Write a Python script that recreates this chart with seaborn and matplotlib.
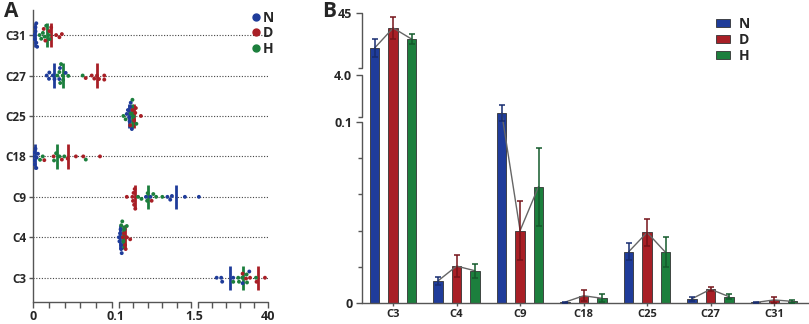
import numpy as np
import pandas as pd
import matplotlib
matplotlib.use("Agg")
import matplotlib.pyplot as plt
import seaborn as sns
from matplotlib.lines import Line2D
from matplotlib.patches import Patch

# ---- data -------------------------------------------------------------
groups = ["N", "D", "H"]
colors = {"N": "#1f3c9a", "D": "#a81f26", "H": "#1c7f3d"}
dark = {"N": "#172c70", "D": "#75141a", "H": "#135a2b"}

# panel A: individual values per compound
a_rows = ["C31", "C27", "C25", "C18", "C9", "C4", "C3"]
a_N = {
    "C31": [0.001, 0.002, 0.003, 0.003, 0.004, 0.004, 0.005],
    "C27": [0.0166, 0.0194, 0.0198, 0.024, 0.026, 0.0319, 0.0327, 0.0396],
    "C25": [0.30, 0.32, 0.34, 0.35, 0.36, 0.37, 0.39],
    "C18": [0.0, 0.0005, 0.001, 0.002, 0.003, 0.004, 0.0045, 0.006],
    "C9": [0.64, 0.72, 1.02, 1.07, 1.10, 1.33, 3.8],
    "C4": [0.16, 0.17, 0.18, 0.19, 0.20, 0.20, 0.21],
    "C3": [13.1, 15.5, 16.0, 21.8, 26.7, 30.2],
}
a_D = {
    "C31": [0.013, 0.015, 0.020, 0.022, 0.028, 0.032, 0.035],
    "C27": [0.0639, 0.0712, 0.0743, 0.0776, 0.080, 0.0864, 0.0864],
    "C25": [0.36, 0.40, 0.43, 0.45, 0.46, 0.55],
    "C18": [0.0137, 0.025, 0.035, 0.042, 0.052, 0.061, 0.0812],
    "C9": [0.30, 0.40, 0.41, 0.42, 0.43, 0.44, 0.45, 0.74],
    "C4": [0.23, 0.25, 0.27, 0.28, 0.30, 0.36],
    "C3": [26.7, 28.5, 30.6, 34.0, 38.4],
}
a_H = {
    "C31": [0.008, 0.010, 0.012, 0.014, 0.016, 0.019, 0.020],
    "C27": [0.0295, 0.032, 0.033, 0.034, 0.036, 0.0365, 0.0428, 0.0602],
    "C25": [0.24, 0.28, 0.37, 0.40, 0.42, 0.47],
    "C18": [0.0085, 0.0118, 0.0255, 0.028, 0.032, 0.038, 0.064],
    "C9": [0.50, 0.56, 0.66, 0.67, 0.77, 0.82, 0.93],
    "C4": [0.20, 0.22, 0.24, 0.26, 0.30],
    "C3": [21.8, 24.4, 24.8, 26.5, 28.8, 29.0, 33.7],
}
# centre lines drawn in panel A
a_center_N = [0.003, 0.0258, 0.345, 0.0025, 1.167, 0.185, 20.1]
a_center_D = [0.0215, 0.0772, 0.433, 0.042, 0.445, 0.274, 34.8]
a_center_H = [0.0166, 0.0367, 0.387, 0.0295, 0.671, 0.238, 26.7]

# panel B: means and errors
b_cats = ["C3", "C4", "C9", "C18", "C25", "C27", "C31"]
b_N = [21.9, 0.0123, 0.85, 0.0005, 0.0283, 0.0024, 0.0003]
b_N_err = [5.9, 0.0022, 0.7, 0.0003, 0.0048, 0.0011, 0.0002]
b_D = [35.1, 0.0204, 0.040, 0.0040, 0.039, 0.0076, 0.0017]
b_D_err = [7.3, 0.006, 0.0165, 0.003, 0.0074, 0.0012, 0.0016]
b_H = [27.8, 0.0178, 0.0643, 0.0026, 0.028, 0.0035, 0.0009]
b_H_err = [3.3, 0.004, 0.0215, 0.0022, 0.0083, 0.0015, 0.0008]


def piecewise(vals, pix):
    # piecewise-linear scale for the broken axes
    vals = np.asarray(vals, float)
    pix = np.asarray(pix, float)

    def make(src, dst):
        def f(v):
            v = np.asarray(v, float)
            out = np.interp(v, src, dst)
            lo_s = (dst[1] - dst[0]) / (src[1] - src[0])
            hi_s = (dst[-1] - dst[-2]) / (src[-1] - src[-2])
            out = np.where(v < src[0], dst[0] + (v - src[0]) * lo_s, out)
            out = np.where(v > src[-1], dst[-1] + (v - src[-1]) * hi_s, out)
            return out
        return f
    return make(vals, pix), make(pix, vals)


sns.set_style("white")
plt.rcParams["font.family"] = ["Open Sans", "DejaVu Sans"]
plt.rcParams["font.weight"] = "bold"
AX_COL = "#555555"

fig = plt.figure(figsize=(8.09, 3.24), dpi=100)
axA = fig.add_axes([33 / 809, 22 / 324, 235 / 809, 292 / 324])
axB = fig.add_axes([362 / 809, 21 / 324, 447 / 809, 290 / 324])

# ---- panel A ----------------------------------------------------------
rows = []
for g, d in zip(groups, [a_N, a_D, a_H]):
    for c in a_rows:
        for v in d[c]:
            rows.append((c, g, v))
dfA = pd.DataFrame(rows, columns=["compound", "group", "value"])

fA, iA = piecewise([0, 0.1, 1.5, 40], [0, 82.5, 161.5, 235])
axA.set_xscale("function", functions=(fA, iA))
axA.set_xlim(0, 40)

sns.swarmplot(data=dfA, x="value", y="compound", hue="group", order=a_rows,
              hue_order=groups, palette=colors, size=2.8, orient="h",
              legend=False, ax=axA, zorder=3)

axA.hlines(range(len(a_rows)), 0, 40, colors="#444444", linestyles=(0, (1, 1.5)),
           lw=0.8, zorder=1)
for g, cen in zip(groups, [a_center_N, a_center_D, a_center_H]):
    axA.vlines(cen, np.arange(len(a_rows)) - 0.3, np.arange(len(a_rows)) + 0.3,
               colors=colors[g], lw=2, zorder=2)

axA.set_ylim(6.6, -0.62)
axA.set_xlabel("")
axA.set_ylabel("")
for s in ["top", "right", "bottom"]:
    axA.spines[s].set_visible(False)
axA.spines["left"].set_color(AX_COL)
axA.spines["left"].set_linewidth(1)

segA = [(0, 79), (86, 158), (165, 235)]
minor = []
for a, b in segA:
    axA.plot(iA(np.array([a, b])), [0, 0], color=AX_COL, lw=1,
             transform=axA.get_xaxis_transform(), clip_on=False)
    minor.extend(np.linspace(a, b, 6))
axA.xaxis.remove_overlapping_locs = False
axA.set_xticks([0, 0.1, 1.5, 40], labels=["0", "0.1", "1.5", "40"])
axA.set_xticks(iA(np.array(minor)), minor=True)
axA.tick_params(axis="x", which="major", length=0, pad=6, labelsize=9)
axA.tick_params(axis="x", which="minor", length=4, width=1, color=AX_COL,
                direction="out", bottom=True)
axA.tick_params(axis="y", length=3, width=1, color=AX_COL, left=True,
                labelsize=8.5, pad=2)
for t in axA.get_xticklabels() + axA.get_yticklabels():
    t.set_fontweight("bold")

hA = [Line2D([], [], marker="o", ls="", color=colors[g], markersize=5) for g in groups]
axA.legend(hA, groups, loc="upper left", bbox_to_anchor=(0.88, 1.04), frameon=False,
           handlelength=0.5, handletextpad=0.25, labelspacing=0.1,
           prop={"weight": "bold", "size": 10})

# ---- panel B ----------------------------------------------------------
b_vals = {"N": b_N, "D": b_D, "H": b_H}
b_errs = {"N": b_N_err, "D": b_D_err, "H": b_H_err}
dfB = pd.DataFrame([(c, g, b_vals[g][i]) for g in groups for i, c in enumerate(b_cats)],
                   columns=["compound", "group", "value"])

sns.barplot(data=dfB, x="compound", y="value", hue="group", order=b_cats,
            hue_order=groups, palette=colors, width=0.87, gap=0.48,
            errorbar=None, linewidth=0.6, edgecolor="#333333", saturation=1,
            legend=False, ax=axB)

fB, iB = piecewise([0, 0.1, 4, 45], [0, 181, 228, 290])
axB.set_yscale("function", functions=(fB, iB))
axB.set_ylim(0, 45)
axB.set_xlim(-0.49, 6.55)

centers = {}
for cont, g in zip(axB.containers, groups):
    xs = [p.get_x() + p.get_width() / 2 for p in cont]
    centers[g] = xs
    axB.errorbar(xs, b_vals[g], yerr=b_errs[g], fmt="none", ecolor=dark[g],
                 elinewidth=1.1, capsize=2.5, capthick=1.1, zorder=4)
for i in range(len(b_cats)):
    axB.plot([centers[g][i] for g in groups], [b_vals[g][i] for g in groups],
             color="#666666", lw=1, zorder=3.5)

axB.set_xlabel("")
axB.set_ylabel("")
for s in ["top", "right", "left"]:
    axB.spines[s].set_visible(False)
axB.spines["bottom"].set_color(AX_COL)
axB.spines["bottom"].set_linewidth(1)

segB = [(0, 181), (186, 228), (235, 290)]
for a, b in segB:
    axB.plot([0, 0], iB(np.array([a, b])), color=AX_COL, lw=1,
             transform=axB.get_yaxis_transform(), clip_on=False)
axB.yaxis.remove_overlapping_locs = False
axB.set_yticks([0, 0.1, 4, 45], labels=["0", "0.1", "4.0", "45"])
axB.set_yticks(list(np.array([0.02, 0.04, 0.06, 0.08])) + list(iB(np.array([186, 235]))),
               minor=True)
axB.tick_params(axis="y", which="major", length=4, width=1, color=AX_COL,
                left=True, labelsize=9, pad=3)
axB.tick_params(axis="y", which="minor", length=3, width=1, color=AX_COL, left=True)
axB.tick_params(axis="x", length=2.5, width=1, color=AX_COL, bottom=True,
                labelsize=8, pad=2)
for t in axB.get_xticklabels() + axB.get_yticklabels():
    t.set_fontweight("bold")

hB = [Patch(facecolor=colors[g], edgecolor="#333333", linewidth=0.6) for g in groups]
axB.legend(hB, groups, loc="upper left", bbox_to_anchor=(0.765, 1.03), frameon=False,
           handlelength=1.0, handleheight=0.5, handletextpad=0.6, labelspacing=0.15,
           prop={"weight": "bold", "size": 10})

fig.text(4 / 809, 1 - 1 / 324, "A", fontsize=15, fontweight="bold", va="top")
fig.text(322 / 809, 1 - 1 / 324, "B", fontsize=15, fontweight="bold", va="top")

fig.savefig("out.png", dpi=100)
